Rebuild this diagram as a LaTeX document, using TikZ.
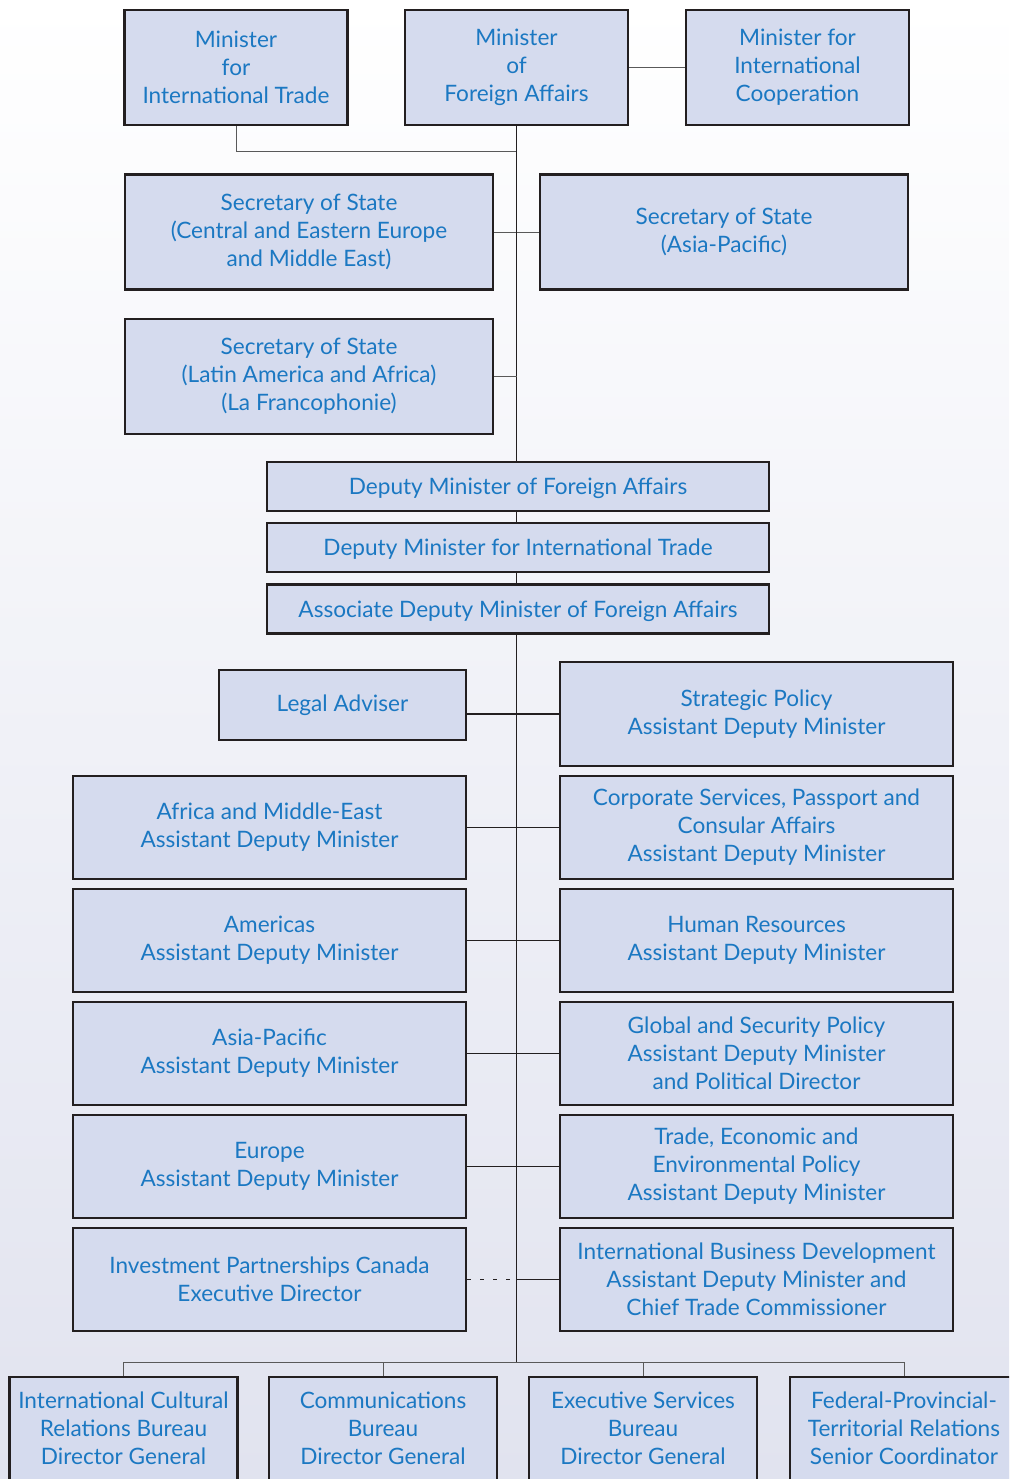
\documentclass[tikz,border=0pt]{standalone}
\usepackage{fontspec}
\setmainfont{Lato}
\usepackage{tikz}
\definecolor{boxfill}{HTML}{D5DBEE}
\definecolor{boxtext}{HTML}{1B78C2}
\definecolor{boxline}{HTML}{231F20}
\definecolor{bgbottom}{HTML}{E1E3EF}

\begin{document}
\begin{tikzpicture}[x=0.5pt,y=-0.5pt,
  post/.style={shape=rectangle,draw=boxline,line width=1.25pt,fill=boxfill,text=boxtext,align=center,inner sep=0pt,font=\fontsize{11.3}{14}\selectfont},
  postM/.style={post,minimum width=111.5pt,minimum height=57.5pt},
  postS/.style={post,minimum width=184pt,minimum height=57.5pt},
  postD/.style={post,minimum width=251pt,minimum height=24.5pt},
  postR/.style={post,minimum width=196.5pt,minimum height=51.5pt},
  postB/.style={post,minimum width=114pt,minimum height=51.5pt},
  thin/.style={draw=black!65,line width=0.5pt},
  spine/.style={draw=boxline,line width=0.55pt},
  link/.style={draw=boxline,line width=0.9pt}]
\def\xl{269.5};
\def\xr{756.5};
\def\yb{1428.5};

\clip (0,0) rectangle (1009,1479);
\useasboundingbox (0,0) rectangle (1009,1479);
\shade[top color=white,bottom color=bgbottom] (0,0) rectangle (1009,1479);

% ministers
\node[postM] (mtrade) at (236,67.5) {Minister\\for\\International Trade};
\node[postM] (mfa) at (516.5,67.5) {Minister\\of\\Foreign Affairs};
\node[postM] (mic) at (797.5,67.5) {Minister for\\International\\Cooperation};
\coordinate (j1) at (516.5,151);
\draw[thin] (mtrade.south) |- (j1);
\draw[thin] (mfa.east) -- (mic.west);

% secretaries of state
\node[postS] (sscee) at (309,232) {Secretary of State\\(Central and Eastern Europe\\and Middle East)};
\node[postS] (ssap) at (724,232) {Secretary of State\\(Asia-Pacific)};
\node[postS] (sslaa) at (309,376.5) {Secretary of State\\(Latin America and Africa)\\(La Francophonie)};
\draw[thin] (sscee.east) -- (ssap.west);

% deputies
\node[postD,text depth=0pt] (dmfa) at (518,486.5) {Deputy Minister of Foreign Affairs};
\node[postD,text depth=0pt] (dmit) at (518,547.5) {Deputy Minister for International Trade};
\node[postD,text depth=0pt] (adm) at (518,609) {Associate Deputy Minister of Foreign Affairs};
\coordinate (bus) at (516.5,1362);

\draw[spine] (mfa.south) -- (mfa.south |- dmfa.north);
\draw[thin] (sslaa.east) -- (sslaa.east -| mfa.south);
\draw[spine] (mfa.south |- dmfa.south) -- (mfa.south |- dmit.north);
\draw[spine] (mfa.south |- dmit.south) -- (mfa.south |- adm.north);
\draw[spine] (mfa.south |- adm.south) -- (bus);

% assistant deputy ministers
\node[post,minimum width=123.5pt,minimum height=35pt] (legal) at (342.5,705) {Legal Adviser};
\node[postR,minimum height=52pt] (strat) at (\xr,714) {Strategic Policy\\Assistant Deputy Minister};
\node[postR] (afr) at (\xl,827.5) {Africa and Middle-East\\Assistant Deputy Minister};
\node[postR] (corp) at (\xr,827.5) {Corporate Services, Passport and\\Consular Affairs\\Assistant Deputy Minister};
\node[postR] (amer) at (\xl,940.5) {Americas\\Assistant Deputy Minister};
\node[postR] (hr) at (\xr,940.5) {Human Resources\\Assistant Deputy Minister};
\node[postR] (asia) at (\xl,1053.5) {Asia-Pacific\\Assistant Deputy Minister};
\node[postR] (glob) at (\xr,1053.5) {Global and Security Policy\\Assistant Deputy Minister\\and Political Director};
\node[postR] (eur) at (\xl,1166.5) {Europe\\Assistant Deputy Minister};
\node[postR] (trade) at (\xr,1166.5) {Trade, Economic and\\Environmental Policy\\Assistant Deputy Minister};
\node[postR] (ipc) at (\xl,1279.5) {Investment Partnerships Canada\\Executive Director};
\node[postR] (ibd) at (\xr,1279.5) {International Business Development\\Assistant Deputy Minister and\\Chief Trade Commissioner};

\draw[link] (strat.west) -- (strat.west -| legal.east);
\draw[link] (afr.east) -- (corp.west);
\draw[link] (amer.east) -- (hr.west);
\draw[link] (asia.east) -- (glob.west);
\draw[link] (eur.east) -- (trade.west);
\draw[link,dash pattern=on 2pt off 4.5pt] (ipc.east) -- (ipc.east -| bus);
\draw[link] (ibd.west) -- (ibd.west -| bus);

% bureaus
\node[postB] (icr) at (123.5,\yb) {International Cultural\\Relations Bureau\\Director General};
\node[postB] (comm) at (383,\yb) {Communications\\Bureau\\Director General};
\node[postB] (exec) at (643,\yb) {Executive Services\\Bureau\\Director General};
\node[postB] (fpt) at (904,\yb) {Federal-Provincial-\\Territorial Relations\\Senior Coordinator};
\draw[thin] (bus) -| (icr.north);
\draw[thin] (bus) -| (comm.north);
\draw[thin] (bus) -| (exec.north);
\draw[thin] (bus) -| (fpt.north);
\end{tikzpicture}
\end{document}
